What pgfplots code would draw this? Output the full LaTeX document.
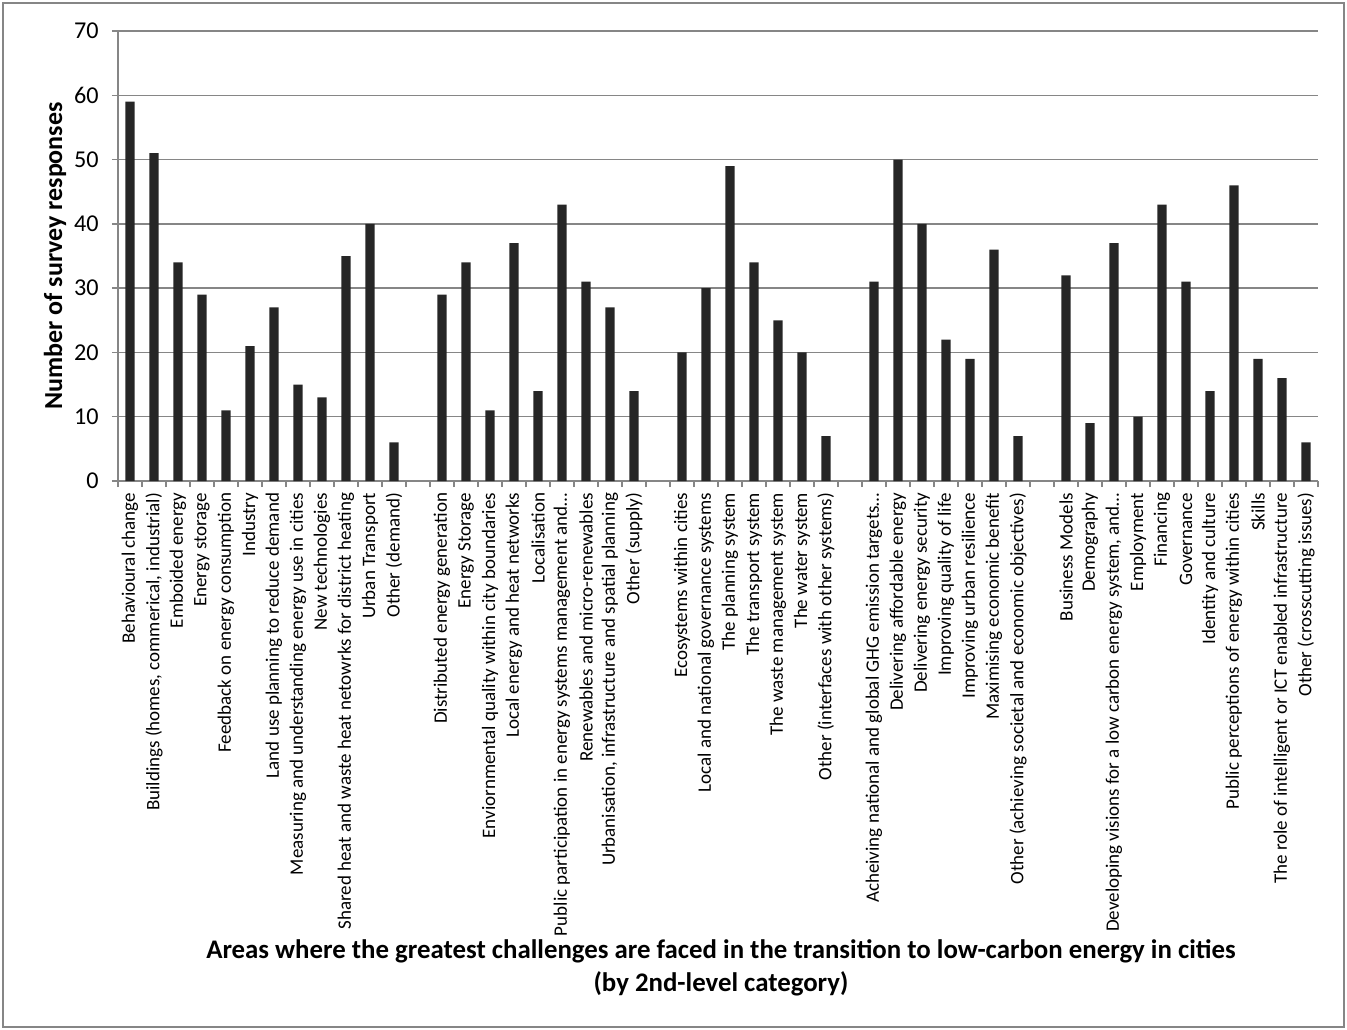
\documentclass[border=0pt]{standalone}
\usepackage{fontspec}
\setmainfont{Carlito}
\usepackage{pgfplots}
\pgfplotsset{compat=1.18}

\definecolor{axisgray}{HTML}{868686}
\definecolor{barfill}{HTML}{262626}

\begin{document}
\begin{tikzpicture}
% page frame (1 px = 0.6 pt)
\useasboundingbox (0pt,0pt) rectangle (808.2pt,-618pt);
\draw[axisgray, line width=0.9pt] (1.8pt,-1.8pt) rectangle (806.4pt,-616.2pt);

\begin{axis}[
  at={(70.8pt,-18.6pt)}, anchor=north west,
  scale only axis,
  width=720pt, height=270pt,
  xmin=-0.5, xmax=49.5,
  ymin=0, ymax=70,
  ytick={0,10,...,70},
  ymajorgrids,
  grid style={axisgray, line width=0.9pt},
  axis x line*=bottom, axis y line*=left,
  axis line style={axisgray, line width=0.9pt, -},
  tick align=outside,
  major tick length=3.6pt,
  tick style={axisgray, line width=0.9pt},
  /pgf/number format/assume math mode=true,
  yticklabel style={font=\fontsize{14.5}{16}\selectfont, xshift=-4.5pt},
  % category boundaries carry the tick marks
  xtick={-0.5,0.5,...,49.5},
  xticklabels={},
  % category names sit at the bar centres
  extra x ticks={0,1,...,49},
  extra x tick style={tick style={draw=none}},
  extra x tick labels={
    Behavioural change,
    {Buildings (homes, commerical, industrial)},
    Emboided energy,
    Energy storage,
    Feedback on energy consumption,
    Industry,
    Land use planning to reduce demand,
    Measuring and understanding energy use in cities,
    New technologies,
    Shared heat and waste heat netowrks for district heating,
    Urban Transport,
    Other (demand),
    {},
    Distributed energy generation,
    Energy Storage,
    Enviornmental quality within city boundaries,
    Local energy and heat networks,
    Localisation,
    Public participation in energy systems management and…,
    Renewables and micro-renewables,
    {Urbanisation, infrastructure and spatial planning},
    Other (supply),
    {},
    Ecosystems within cities,
    Local and national governance\ systems,
    The planning system,
    The transport system,
    The waste management system,
    The water system,
    Other (interfaces with other systems),
    {},
    Acheiving national and global GHG emission targets…,
    Delivering affordable energy,
    Delivering energy security,
    Improving quality of life,
    Improving urban resilience,
    Maximising economic benefit,
    Other (achieving societal and economic objectives),
    {},
    Business Models,
    Demography,
    {Developing visions for a low carbon energy system, and…},
    Employment,
    Financing,
    Governance,
    Identity and culture,
    Public perceptions of energy within cities,
    Skills,
    The role of intelligent or ICT enabled infrastructure,
    Other (crosscutting issues)
  },
  xticklabel style={rotate=90, anchor=east, font=\fontsize{11.4}{13}\selectfont},
  ylabel={Number of survey responses},
  ylabel style={at={(axis description cs:-0.0525,0.5)}, anchor=center,
    font=\bfseries\fontsize{15.6}{18}\selectfont},
  xlabel={Areas where the greatest challenges are faced in the transition to low-carbon energy in cities\\(by 2nd-level category)},
  xlabel style={at={(axis description cs:0.5025,-1.082)}, anchor=center, align=center,
    font=\bfseries\fontsize{16.1}{20}\selectfont},
  ybar, bar width=5.6pt,
]
\addplot[fill=barfill, draw=none, bar shift=0pt] coordinates {
  (0,59) (1,51) (2,34) (3,29) (4,11) (5,21) (6,27) (7,15) (8,13) (9,35) (10,40) (11,6)
  (13,29) (14,34) (15,11) (16,37) (17,14) (18,43) (19,31) (20,27) (21,14)
  (23,20) (24,30) (25,49) (26,34) (27,25) (28,20) (29,7)
  (31,31) (32,50) (33,40) (34,22) (35,19) (36,36) (37,7)
  (39,32) (40,9) (41,37) (42,10) (43,43) (44,31) (45,14) (46,46) (47,19) (48,16) (49,6)
};
\end{axis}
\end{tikzpicture}
\end{document}
